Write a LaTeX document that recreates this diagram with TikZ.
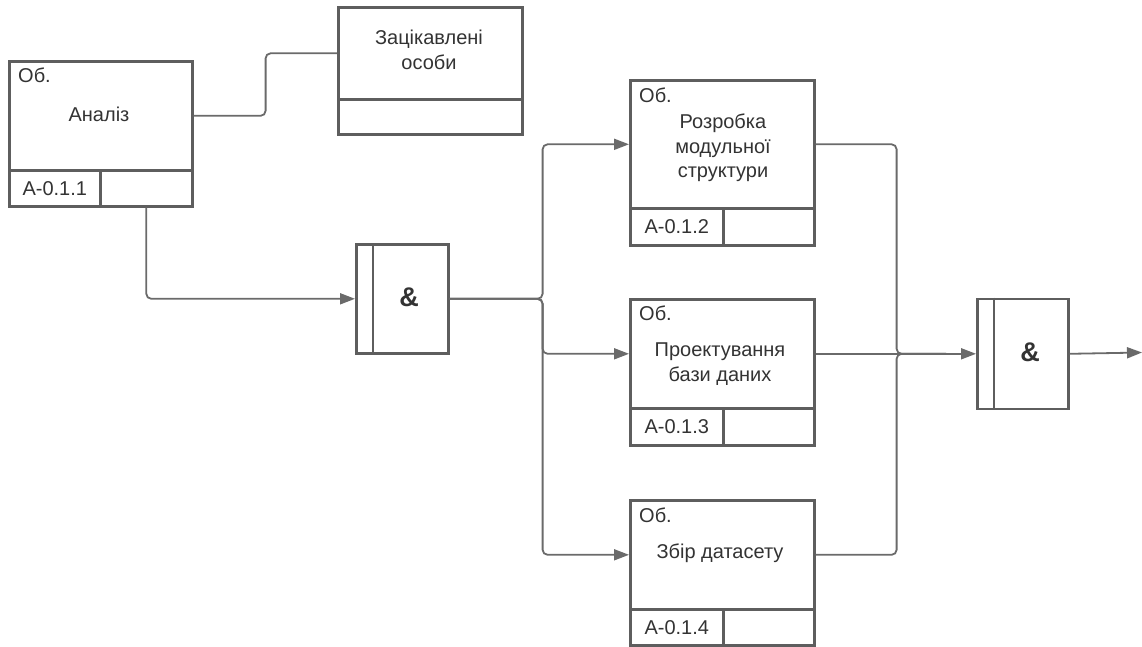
\documentclass[tikz,border=0pt]{standalone}
\usepackage{fontspec}
\setmainfont{Liberation Sans}
\usetikzlibrary{arrows.meta}
\definecolor{boxc}{HTML}{5E5E5E}
\definecolor{linec}{HTML}{6A6A6A}
\definecolor{txtc}{HTML}{333333}
\begin{document}
\begin{tikzpicture}[x=1pt,y=-1pt,
  box/.style={draw=boxc, line width=2.6pt, inner sep=0pt, anchor=north west},
  conn/.style={draw=linec, line width=1.8pt, rounded corners=5pt},
  arr/.style={conn, -{Triangle[length=15pt,width=11pt]}},
  txt/.style={font=\fontsize{20}{24.5}\selectfont, text=txtc, align=center, inner sep=0pt},
  amp/.style={font=\fontsize{27}{30}\selectfont\bfseries, text=txtc, inner sep=0pt},
]
\useasboundingbox[fill=white] (0,0) rectangle (1142,646);

% Analiz
\node[box, minimum width=183pt, minimum height=109pt] (an) at (8,60) {};
\node[box, minimum width=91pt, minimum height=36pt] (an-l) at (8,169) {};
\node[box, minimum width=92pt, minimum height=36pt] (an-r) at (99,169) {};
\node[txt, anchor=west] (an-ob) at (18,75) {Об.};
\node[txt] (an-t) at (99,114) {Аналіз};
\node[txt] (an-id) at (an-l.center) {A-0.1.1};

% Stakeholders
\node[box, minimum width=184pt, minimum height=92pt] (st) at (337,6) {};
\node[box, minimum width=184pt, minimum height=35pt] (st-b) at (337,98) {};
\node[txt] (st-t) at (429,50) {Зацікавлені\\особи};

% AND gate 1
\node[box, minimum width=92pt, minimum height=109pt] (g1) at (355,243) {};
\draw[draw=boxc, line width=2.6pt] ([xshift=18pt]g1.north west) -- ([xshift=18pt]g1.south west);
\node[amp] (g1-t) at (409,297) {\&};

% Rozrobka
\node[box, minimum width=184pt, minimum height=128pt] (rz) at (629,79) {};
\node[box, minimum width=93pt, minimum height=37pt] (rz-l) at (629,207) {};
\node[box, minimum width=91pt, minimum height=37pt] (rz-r) at (722,207) {};
\node[txt, anchor=west] (rz-ob) at (639,95) {Об.};
\node[txt] (rz-t) at (723,148) {Розробка\\модульної\\структури};
\node[txt] (rz-id) at (rz-l.center) {A-0.1.2};

% Proektuvannya
\node[box, minimum width=184pt, minimum height=109pt] (pr) at (629,298) {};
\node[box, minimum width=93pt, minimum height=37pt] (pr-l) at (629,407) {};
\node[box, minimum width=91pt, minimum height=37pt] (pr-r) at (722,407) {};
\node[txt, anchor=west] (pr-ob) at (639,313) {Об.};
\node[txt] (pr-t) at (720,364) {Проектування\\бази даних};
\node[txt] (pr-id) at (pr-l.center) {A-0.1.3};

% Zbir
\node[box, minimum width=184pt, minimum height=109pt] (zb) at (629,499) {};
\node[box, minimum width=93pt, minimum height=36pt] (zb-l) at (629,608) {};
\node[box, minimum width=91pt, minimum height=36pt] (zb-r) at (722,608) {};
\node[txt, anchor=west] (zb-ob) at (639,515) {Об.};
\node[txt] (zb-t) at (720,553) {Збір датасету};
\node[txt] (zb-id) at (zb-l.center) {A-0.1.4};

% AND gate 2
\node[box, minimum width=91pt, minimum height=110pt] (g2) at (976,297.5) {};
\draw[draw=boxc, line width=2.6pt] ([xshift=18pt]g2.north west) -- ([xshift=18pt]g2.south west);
\node[amp] (g2-t) at (1030,352) {\&};

\coordinate (ex) at (1142,352.5);

% connectors
\draw[conn] (an.east) -- ++(72,0) |- (st.west);
\draw[arr] (an-r.south) |- (g1.west);
\draw[arr] (g1.east) -- ++(93,0) |- (rz.west);
\draw[arr] (g1.east) -- ++(93,0) |- (pr.west);
\draw[arr] (g1.east) -- ++(93,0) |- (zb.west);
\draw[conn] (rz.east) -- ++(81,0) |- ([xshift=-30pt]g2.west);
\draw[conn] (zb.east) -- ++(81,0) |- ([xshift=-30pt]g2.west);
\draw[arr] (pr.east) -- (g2.west);
\draw[arr] (g2.east) -- (ex);
\end{tikzpicture}
\end{document}
